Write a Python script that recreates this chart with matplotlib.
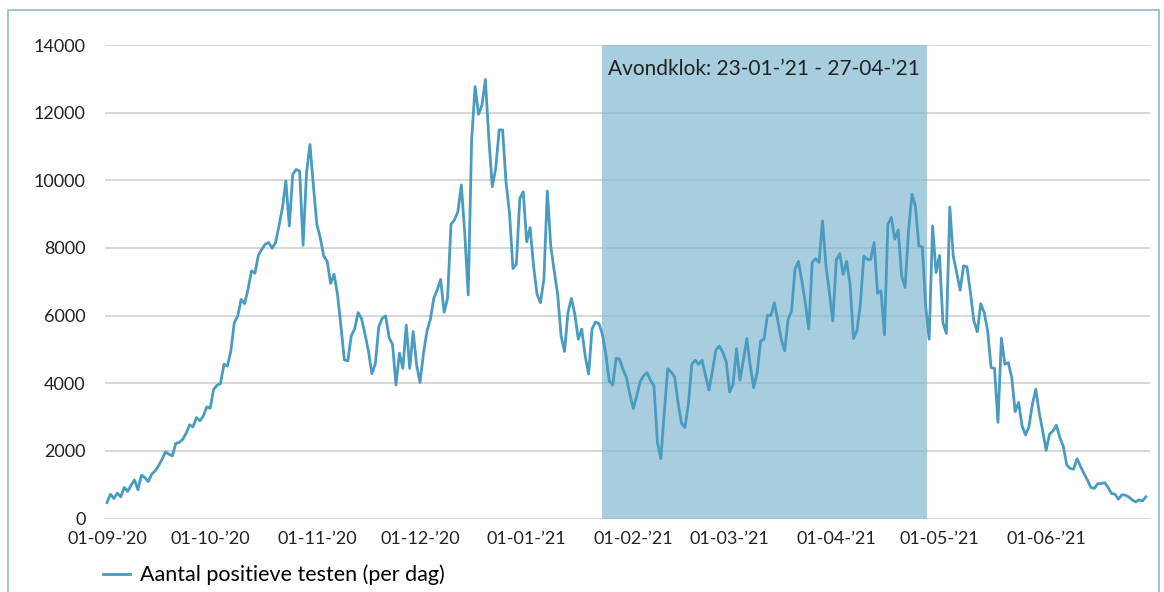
import numpy as np
import pandas as pd
import matplotlib
matplotlib.use('Agg')
import matplotlib.pyplot as plt
import matplotlib.dates as mdates
from matplotlib.patches import Rectangle

plt.rcParams['font.family'] = ['Lato', 'DejaVu Sans']

# daily positive tests, 01-09-2020 .. 30-06-2021
start_date = '2020-09-01'
positives = [
    470, 720, 590, 750, 640, 920, 800, 985, 1140, 850,
    1280, 1210, 1090, 1310, 1410, 1560, 1750, 1970, 1900, 1850,
    2220, 2250, 2340, 2520, 2770, 2710, 2985, 2890, 3030, 3300,
    3260, 3820, 3940, 3990, 4560, 4510, 4950, 5790, 5990, 6480,
    6350, 6780, 7320, 7250, 7780, 7960, 8110, 8160, 7990, 8160,
    8650, 9190, 9980, 8650, 10175, 10320, 10270, 8080, 10220, 11060,
    9830, 8700, 8300, 7760, 7610, 6950, 7220, 6630, 5690, 4690,
    4660, 5400, 5610, 6090, 5910, 5450, 4950, 4280, 4570, 5670,
    5920, 5990, 5350, 5150, 3950, 4890, 4440, 5720, 4440, 5530,
    4540, 4020, 4890, 5530, 5890, 6510, 6760, 7070, 6100, 6510,
    8700, 8830, 9070, 9860, 8430, 6610, 11190, 12770, 11950, 12220,
    12980, 11240, 9810, 10350, 11490, 11490, 9930, 9040, 7390, 7520,
    9460, 9660, 8180, 8600, 7470, 6630, 6380, 7070, 9680, 8060,
    7320, 6630, 5400, 4940, 6090, 6510, 6040, 5300, 5600, 4810,
    4270, 5600, 5810, 5760, 5450, 4860, 4070, 3940, 4740, 4710,
    4410, 4170, 3670, 3250, 3630, 4050, 4220, 4310, 4090, 3920,
    2250, 1770, 3130, 4430, 4330, 4190, 3430, 2820, 2690, 3380,
    4560, 4680, 4560, 4680, 4220, 3800, 4360, 4980, 5100, 4910,
    4630, 3740, 3970, 5020, 4090, 4690, 5320, 4510, 3870, 4310,
    5250, 5300, 6010, 6000, 6380, 5850, 5300, 4960, 5890, 6140,
    7370, 7600, 7020, 6380, 5600, 7570, 7680, 7570, 8800, 7470,
    6680, 5840, 7640, 7830, 7220, 7600, 6930, 5320, 5550, 6330,
    7760, 7660, 7660, 8160, 6660, 6730, 5430, 8700, 8900, 8260,
    8530, 7170, 6830, 8500, 9590, 9240, 8060, 8030, 6280, 5300,
    8650, 7270, 7780, 5790, 5470, 9210, 7760, 7270, 6750, 7470,
    7440, 6680, 5840, 5520, 6350, 6090, 5550, 4460, 4440, 2840,
    5330, 4560, 4610, 4170, 3160, 3430, 2740, 2470, 2710, 3380,
    3820, 3130, 2590, 2020, 2490, 2590, 2760, 2390, 2130, 1580,
    1480, 1460, 1770, 1540, 1330, 1140, 920, 890, 1030, 1030,
    1060, 920, 740, 720, 570, 700, 690, 640, 550, 490,
    550, 520, 640,
]
curfew_start = '2021-01-23'
curfew_end = '2021-04-27'
curfew_label = 'Avondklok: 23-01-\u201921 - 27-04-\u201921'
series_label = 'Aantal positieve testen (per dag)'
tick_dates = ['2020-09-01', '2020-10-01', '2020-11-01', '2020-12-01', '2021-01-01',
              '2021-02-01', '2021-03-01', '2021-04-01', '2021-05-01', '2021-06-01']
y_ticks = [0, 2000, 4000, 6000, 8000, 10000, 12000, 14000]

dates = pd.date_range(start_date, periods=len(positives), freq='D')

W, H = 1164, 592
fig = plt.figure(figsize=(W / 100, H / 100), dpi=100)
ax = fig.add_axes([105 / W, 1 - 518.5 / H, (1150 - 105) / W, (518.5 - 45) / H])

# light frame around the whole chart
fig.patches.append(Rectangle((8 / W, -0.01), (1159 - 8) / W, 1 - 10 / H + 0.01,
                             transform=fig.transFigure, fill=False,
                             edgecolor='#8fb8cf', linewidth=1.2))

d0 = mdates.date2num(pd.Timestamp(start_date))
px_day = 3.44
ax.set_xlim(d0 - 2 / px_day, d0 + (1150 - 107) / px_day)
ax.set_ylim(0, 14000)

for v in y_ticks:
    ax.axhline(v, color='#d0d0d0', linewidth=1.2, zorder=1)

ax.axvspan(pd.Timestamp(curfew_start), pd.Timestamp(curfew_end) + pd.Timedelta(days=0.5),
           ymin=0, ymax=1, color='#7fb6cf', alpha=0.68, linewidth=0, zorder=2)
ax.text(pd.Timestamp(curfew_start) + pd.Timedelta(days=1.5), 13300, curfew_label,
        fontsize=15, color='#222222', va='center', ha='left', zorder=4)

ax.plot(dates, positives, color='#4a9bc0', linewidth=2, zorder=3, label=series_label)

ax.set_yticks(y_ticks)
ax.set_yticklabels([str(v) for v in y_ticks], fontsize=13, color='#222222')
ax.set_xticks([pd.Timestamp(d) for d in tick_dates])
ax.set_xticklabels([pd.Timestamp(d).strftime('%d-%m-\u2019%y') for d in tick_dates],
                   fontsize=13, color='#222222')
ax.tick_params(axis='both', length=0)
ax.tick_params(axis='y', pad=14)
ax.tick_params(axis='x', pad=9)
for s in ax.spines.values():
    s.set_visible(False)

fig.legend(loc='center left', bbox_to_anchor=(103 / W, 1 - 575 / H), frameon=False,
           fontsize=15.5, handlelength=1.25, handletextpad=0.45,
           borderpad=0, borderaxespad=0)

fig.savefig('out.png', dpi=100)
